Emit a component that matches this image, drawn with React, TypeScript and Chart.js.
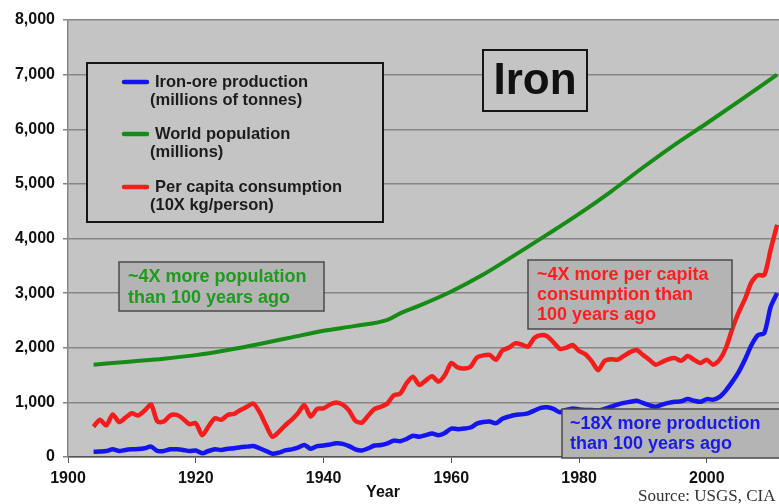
import React, { useEffect, useRef } from 'react';
import { Chart, registerables } from 'chart.js';

Chart.register(...registerables);

const years = [
  1904, 1905, 1906, 1907, 1908, 1909, 1910, 1911, 1912, 1913,
  1914, 1915, 1916, 1917, 1918, 1919, 1920, 1921, 1922, 1923,
  1924, 1925, 1926, 1927, 1928, 1929, 1930, 1931, 1932, 1933,
  1934, 1935, 1936, 1937, 1938, 1939, 1940, 1941, 1942, 1943,
  1944, 1945, 1946, 1947, 1948, 1949, 1950, 1951, 1952, 1953,
  1954, 1955, 1956, 1957, 1958, 1959, 1960, 1961, 1962, 1963,
  1964, 1965, 1966, 1967, 1968, 1969, 1970, 1971, 1972, 1973,
  1974, 1975, 1976, 1977, 1978, 1979, 1980, 1981, 1982, 1983,
  1984, 1985, 1986, 1987, 1988, 1989, 1990, 1991, 1992, 1993,
  1994, 1995, 1996, 1997, 1998, 1999, 2000, 2001, 2002, 2003,
  2004, 2005, 2006, 2007, 2008, 2009, 2010, 2011,
];

// Iron-ore production (millions of tonnes)
const ironOre = [
  95, 100, 110, 140, 110, 130, 140, 145, 160, 190,
  110, 110, 140, 140, 130, 110, 120, 70, 110, 140,
  130, 150, 160, 180, 190, 200, 160, 110, 60, 80,
  120, 140, 170, 220, 150, 200, 210, 230, 250, 240,
  200, 140, 120, 160, 210, 220, 250, 300, 290, 330,
  390, 370, 400, 430, 400, 440, 520, 510, 520, 540,
  610, 640, 650, 620, 700, 740, 770, 780, 800, 850,
  900, 910, 880, 820, 860, 890, 870, 860, 860, 850,
  880, 920, 960, 990, 1010, 1030, 990, 950, 920, 960,
  990, 1010, 1020, 1060, 1030, 1010, 1060, 1050, 1100, 1220,
  1380, 1560, 1790, 2050, 2230, 2270, 2750, 3000,
];

// Per capita consumption (10X kg/person)
const perCapita = [
  555, 680, 580, 780, 640, 720, 800, 760, 850, 960,
  650, 650, 760, 770, 700, 600, 620, 400, 560, 710,
  680, 770, 790, 860, 920, 980, 820, 580, 370, 460,
  580, 680, 800, 950, 740, 880, 890, 960, 1000, 960,
  850, 660, 630, 760, 880, 920, 980, 1130, 1160, 1350,
  1470, 1320, 1400, 1480, 1380, 1500, 1720, 1640, 1620, 1650,
  1820, 1860, 1870, 1780, 1950, 2000, 2080, 2060, 2020, 2180,
  2230, 2210, 2100, 1980, 2000, 2050, 1940, 1880, 1750, 1590,
  1760, 1790, 1780, 1850, 1920, 1960, 1870, 1780, 1690, 1740,
  1790, 1810, 1760, 1850, 1780, 1720, 1780, 1690, 1780, 2000,
  2350, 2650, 2900, 3200, 3330, 3330, 3800, 4250,
];

// World population (millions)
const popYears = [
  1904, 1910, 1915, 1920, 1925, 1930, 1935, 1940, 1945, 1950, 1952,
  1955, 1960, 1965, 1970, 1975, 1980, 1985, 1990, 1995, 2000, 2005, 2011,
];
const population = [
  1690, 1750, 1800, 1865, 1960, 2070, 2190, 2310, 2400, 2510, 2630,
  2770, 3030, 3340, 3700, 4070, 4450, 4860, 5300, 5720, 6110, 6510, 7000,
];

const xTickYears = [1900, 1920, 1940, 1960, 1980, 2000];

const legendItems = [
  { color: '#1414f0', lines: ['Iron-ore production', '(millions of tonnes)'] },
  { color: '#168c16', lines: ['World population', '(millions)'] },
  { color: '#f51c1c', lines: ['Per capita consumption', '(10X kg/person)'] },
];

const notePopulation = ['~4X more population', 'than 100 years ago'];
const noteConsumption = ['~4X more per capita', 'consumption than', '100 years ago'];
const noteProduction = ['~18X more production', 'than 100 years ago'];

const SANS = '"Liberation Sans", Arial, sans-serif';

function box(ctx: CanvasRenderingContext2D, x: number, y: number, w: number, h: number, fill: string, stroke: string, lw: number) {
  ctx.save();
  ctx.fillStyle = fill;
  ctx.fillRect(x, y, w, h);
  ctx.strokeStyle = stroke;
  ctx.lineWidth = lw;
  ctx.strokeRect(x, y, w, h);
  ctx.restore();
}

function textLines(ctx: CanvasRenderingContext2D, lines: string[], x: number, y0: number, step: number, font: string, color: string) {
  ctx.save();
  ctx.font = font;
  ctx.fillStyle = color;
  ctx.textAlign = 'left';
  ctx.textBaseline = 'middle';
  lines.forEach((t, i) => ctx.fillText(t, x, y0 + i * step));
  ctx.restore();
}

const overlay = {
  id: 'overlay',
  beforeDraw(chart: any) {
    const { ctx, chartArea: a } = chart;
    ctx.save();
    ctx.fillStyle = '#c4c4c4';
    ctx.fillRect(a.left, a.top, a.right - a.left, a.bottom - a.top);
    ctx.restore();
  },
  afterDatasetsDraw(chart: any) {
    const ctx: CanvasRenderingContext2D = chart.ctx;
    // Legend box
    box(ctx, 87, 63, 296, 159, '#c4c4c4', '#151515', 2);
    const legendY = [82, 134, 187];
    legendItems.forEach((it, i) => {
      const y = legendY[i];
      ctx.save();
      ctx.strokeStyle = it.color;
      ctx.lineWidth = 4.5;
      ctx.lineCap = 'round';
      ctx.beginPath();
      ctx.moveTo(124, y);
      ctx.lineTo(147, y);
      ctx.stroke();
      ctx.restore();
      textLines(ctx, [it.lines[0]], 155, y, 0, 'bold 16.5px ' + SANS, '#1c1c1c');
      textLines(ctx, [it.lines[1]], 150, y + 18.5, 0, 'bold 16.5px ' + SANS, '#1c1c1c');
    });
    // Title box
    box(ctx, 483, 50, 104, 61, '#c4c4c4', '#151515', 2);
    ctx.save();
    ctx.font = 'bold 44px ' + SANS;
    ctx.fillStyle = '#111';
    ctx.textAlign = 'center';
    ctx.textBaseline = 'middle';
    ctx.fillText('Iron', 535, 82);
    ctx.restore();
    // Annotation boxes
    box(ctx, 119, 262, 205, 49, '#b4b4b4', '#4a4a4a', 1.5);
    textLines(ctx, notePopulation, 128, 277, 21, 'bold 18px ' + SANS, '#1f9a1f');
    box(ctx, 528, 260, 204, 69, '#b4b4b4', '#4a4a4a', 1.5);
    textLines(ctx, noteConsumption, 537, 275, 20, 'bold 18px ' + SANS, '#ff1e1e');
    box(ctx, 562, 409, 230, 49, '#b4b4b4', '#4a4a4a', 1.5);
    textLines(ctx, noteProduction, 570, 424, 20, 'bold 18px ' + SANS, '#1a1ae6');
  },
  afterDraw(chart: any) {
    const ctx: CanvasRenderingContext2D = chart.ctx;
    ctx.save();
    ctx.font = 'bold 16px ' + SANS;
    ctx.fillStyle = '#111';
    ctx.textAlign = 'center';
    ctx.textBaseline = 'middle';
    ctx.fillText('Year', 383, 493);
    ctx.font = '17px "Liberation Serif", "Times New Roman", serif';
    ctx.fillStyle = '#333';
    ctx.textAlign = 'left';
    ctx.fillText('Source: USGS, CIA', 638, 497);
    ctx.restore();
  },
};

export default function App() {
  const ref = useRef<HTMLCanvasElement>(null);
  useEffect(() => {
    if (!ref.current) return;
    const toXY = (xs: number[], ys: number[]) => xs.map((x, i) => ({ x, y: ys[i] }));
    const chart = new Chart(ref.current, {
      type: 'line',
      data: {
        datasets: [
          {
            label: 'World population (millions)',
            data: toXY(popYears, population),
            borderColor: '#168c16',
            borderWidth: 4,
            pointRadius: 0,
            cubicInterpolationMode: 'monotone',
          },
          {
            label: 'Per capita consumption (10X kg/person)',
            data: toXY(years, perCapita),
            borderColor: '#f51c1c',
            borderWidth: 4.5,
            pointRadius: 0,
            tension: 0.25,
          },
          {
            label: 'Iron-ore production (millions of tonnes)',
            data: toXY(years, ironOre),
            borderColor: '#1414f0',
            borderWidth: 4.5,
            pointRadius: 0,
            tension: 0.25,
          },
        ],
      },
      options: {
        responsive: false,
        animation: false,
        layout: { padding: { top: 20, right: 0, bottom: 0, left: 0 } },
        plugins: { legend: { display: false }, tooltip: { enabled: false } },
        scales: {
          x: {
            type: 'linear',
            min: 1900,
            max: 2011.3,
            afterBuildTicks: (scale: any) => {
              scale.ticks = xTickYears.map((v) => ({ value: v }));
            },
            afterFit: (scale: any) => {
              scale.height = 47;
            },
            ticks: {
              callback: (v: any) => String(v),
              font: { family: SANS, size: 16, weight: 'bold' },
              color: '#111',
              padding: 6,
              maxRotation: 0,
              autoSkip: false,
            },
            grid: { drawOnChartArea: false, drawTicks: true, tickLength: 6, color: '#555' },
            border: { color: '#555', width: 1.5 },
          },
          y: {
            min: 0,
            max: 8000,
            afterFit: (scale: any) => {
              scale.width = 68;
            },
            ticks: {
              stepSize: 1000,
              callback: (v: any) => Number(v).toLocaleString('en-US'),
              font: { family: SANS, size: 16, weight: 'bold' },
              color: '#111',
              padding: 8,
            },
            grid: { color: '#858585', lineWidth: 1.5, tickLength: 5 },
            border: { color: '#858585', width: 1.5 },
          },
        },
      },
      plugins: [overlay],
    } as any);
    return () => chart.destroy();
  }, []);
  return (
    <div style={{ position: 'absolute', left: 0, top: 0, width: 779, height: 504, background: '#fff' }}>
      <canvas ref={ref} width={779} height={504} style={{ display: 'block' }} />
    </div>
  );
}
